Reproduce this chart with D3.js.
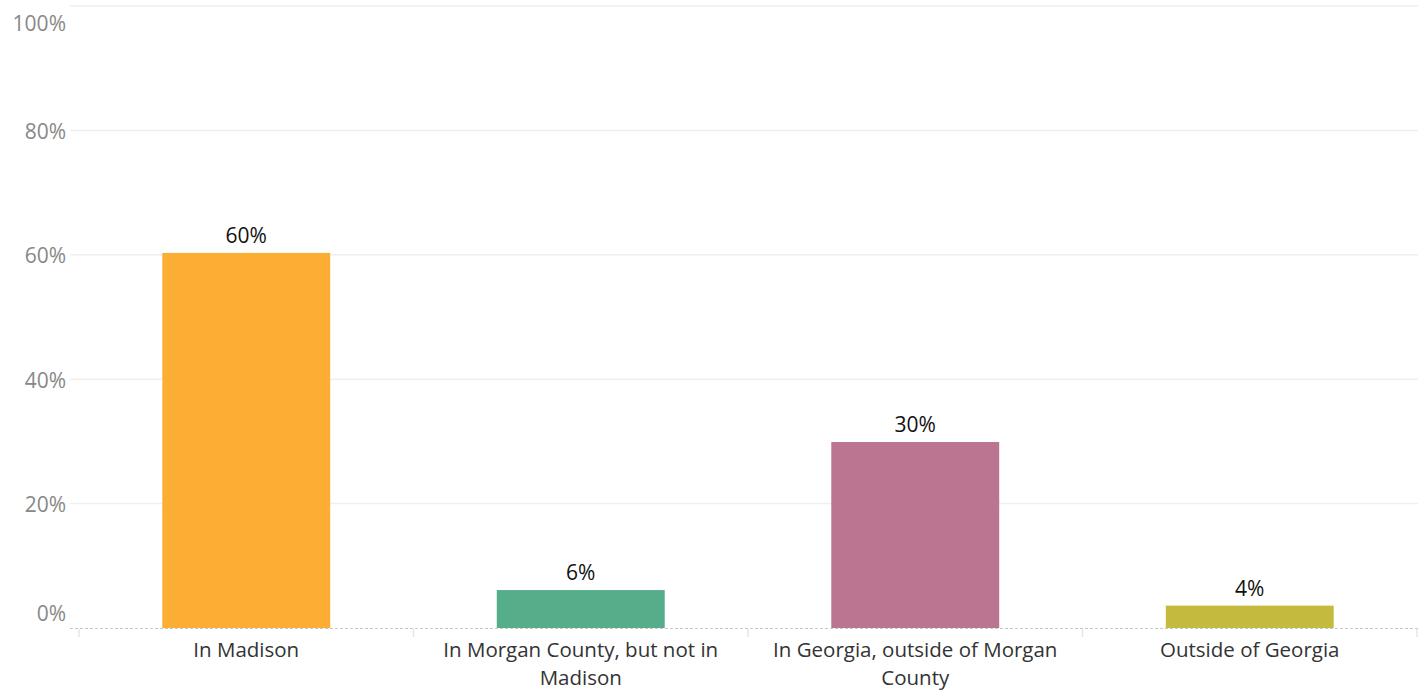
<!DOCTYPE html>
<html>
<head>
<meta charset="utf-8">
<script src="https://cdn.jsdelivr.net/npm/d3@7"></script>
<style>
  body { margin: 0; background: #fff; }
  svg { display: block; font-family: "Open Sans", "Noto Sans", sans-serif; }
</style>
</head>
<body>
<div id="chart"></div>
<script>
// data
const categories = ["In Madison", "In Morgan County, but not in Madison", "In Georgia, outside of Morgan County", "Outside of Georgia"];
const labelLines = [["In Madison"], ["In Morgan County, but not in", "Madison"], ["In Georgia, outside of Morgan", "County"], ["Outside of Georgia"]];
const values = [60.3, 6.1, 29.9, 3.6];
const yTicks = [0, 20, 40, 60, 80, 100];
const colors = ["#fcad33", "#55ad89", "#bb7591", "#c4ba3e"];

const width = 1424, height = 690;
const gridLeft = 70, gridRight = 1418;
const x0 = 79, x1 = 1417;
const yTop = 6, yBase = 628;

const svg = d3.select("#chart").append("svg")
  .attr("width", width)
  .attr("height", height);

const x = d3.scaleBand().domain(categories).range([x0, x1]).padding(0);
const y = d3.scaleLinear().domain([0, 100]).range([yBase, yTop]);

// gridlines
svg.append("g").selectAll("line")
  .data(yTicks.filter(d => d > 0))
  .join("line")
  .attr("x1", gridLeft).attr("x2", gridRight)
  .attr("y1", d => y(d)).attr("y2", d => y(d))
  .attr("stroke", "#efefef")
  .attr("stroke-width", 1.5);

// y labels (top and bottom nudged inside like the original)
svg.append("g").selectAll("text")
  .data(yTicks)
  .join("text")
  .attr("x", 66)
  .attr("y", d => y(d) + (d === 100 ? 18 : d === 0 ? -14 : 1))
  .attr("dy", "0.35em")
  .attr("text-anchor", "end")
  .attr("fill", "#888")
  .style("font-size", "21px")
  .text(d => d + "%");

// bars
const bw = x.bandwidth() * 0.502;
svg.append("g").selectAll("rect")
  .data(values)
  .join("rect")
  .attr("x", (d, i) => x(categories[i]) + (x.bandwidth() - bw) / 2)
  .attr("width", bw)
  .attr("y", d => y(d))
  .attr("height", d => y(0) - y(d))
  .attr("fill", (d, i) => colors[i]);

// value labels
svg.append("g").selectAll("text")
  .data(values)
  .join("text")
  .attr("x", (d, i) => x(categories[i]) + x.bandwidth() / 2)
  .attr("y", d => y(d) - 17)
  .attr("dy", "0.35em")
  .attr("text-anchor", "middle")
  .attr("fill", "#111")
  .style("font-size", "21px")
  .text(d => Math.round(d) + "%");

// baseline (dashed)
svg.append("line")
  .attr("x1", gridLeft).attr("x2", gridRight)
  .attr("y1", yBase + 0.5).attr("y2", yBase + 0.5)
  .attr("stroke", "#c8c8c8")
  .attr("stroke-dasharray", "3,2");

// category divider ticks
const dividers = categories.map(c => x(c)).concat([x1]);
svg.append("g").selectAll("line")
  .data(dividers)
  .join("line")
  .attr("x1", d => d).attr("x2", d => d)
  .attr("y1", yBase + 1).attr("y2", yBase + 9)
  .attr("stroke", "#e6e6e6")
  .attr("stroke-width", 1.5);

// x labels
const xl = svg.append("g").selectAll("text")
  .data(categories)
  .join("text")
  .attr("x", d => x(d) + x.bandwidth() / 2)
  .attr("y", 650)
  .attr("dy", "0.35em")
  .attr("text-anchor", "middle")
  .attr("fill", "#333")
  .style("font-size", "20.5px");

xl.each(function(d, i) {
  d3.select(this).selectAll("tspan")
    .data(labelLines[i])
    .join("tspan")
    .attr("x", x(d) + x.bandwidth() / 2)
    .attr("dy", (t, j) => j === 0 ? "0.35em" : "28px")
    .text(t => t);
});
</script>
</body>
</html>
